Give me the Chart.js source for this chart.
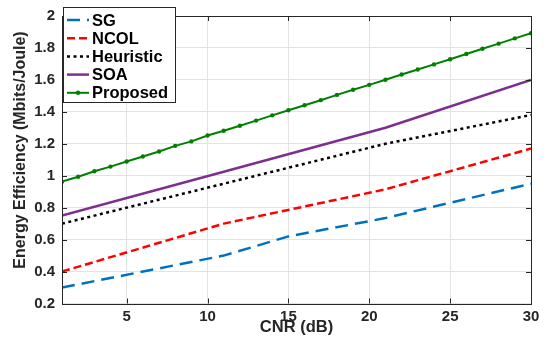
<!DOCTYPE html>
<html><head><meta charset="utf-8">
<script src="https://cdn.jsdelivr.net/npm/chart.js@4/dist/chart.umd.min.js"></script>
<style>html,body{margin:0;padding:0;background:#fff}canvas{display:block}</style>
</head><body><canvas id="c" width="547" height="345"></canvas>
<script>
const seriesNames = ['SG', 'NCOL', 'Heuristic', 'SOA', 'Proposed'];
const sgX = [1, 11, 15, 21, 30];
const sgY = [0.30, 0.50, 0.62, 0.735, 0.95];
const ncolX = [1, 11, 21, 30];
const ncolY = [0.40, 0.70, 0.915, 1.17];
const heurX = [1, 11, 21, 30];
const heurY = [0.70, 0.95, 1.20, 1.38];
const soaX = [1, 11, 21, 30];
const soaY = [0.75, 1.025, 1.30, 1.60];
const propX = [1, 2, 3, 4, 5, 6, 7, 8, 9, 10, 11, 12, 13, 14, 15, 16, 17, 18, 19, 20, 21, 22, 23, 24, 25, 26, 27, 28, 29, 30];
const propY = [0.963, 0.994, 1.028, 1.057, 1.089, 1.12, 1.152, 1.187, 1.215, 1.252, 1.282, 1.313, 1.345, 1.378, 1.41, 1.441, 1.473, 1.506, 1.538, 1.569, 1.601, 1.634, 1.665, 1.697, 1.729, 1.762, 1.795, 1.827, 1.86, 1.892];
const xTicks = [5, 10, 15, 20, 25, 30];
const yTicks = [0.2, 0.4, 0.6, 0.8, 1, 1.2, 1.4, 1.6, 1.8, 2];
const xTitle = 'CNR (dB)';
const yTitle = 'Energy Efficiency (Mbits/Joule)';

const FONT = "'Liberation Sans', Arial, Helvetica, sans-serif";
const pts = (xs, ys) => xs.map((x, i) => ({x: x, y: ys[i]}));

const datasets = [
  {label: seriesNames[0], data: pts(sgX, sgY), borderColor: '#0072BD', borderWidth: 2.5, borderDash: [13, 7], pointRadius: 0},
  {label: seriesNames[1], data: pts(ncolX, ncolY), borderColor: '#FF0000', borderWidth: 2.5, borderDash: [8, 4], pointRadius: 0},
  {label: seriesNames[2], data: pts(heurX, heurY), borderColor: '#000000', borderWidth: 2.5, borderDash: [3, 3.5], pointRadius: 0},
  {label: seriesNames[3], data: pts(soaX, soaY), borderColor: '#7E2F8E', borderWidth: 2.5, pointRadius: 0},
  {label: seriesNames[4], data: pts(propX, propY), borderColor: '#008000', backgroundColor: '#008000', borderWidth: 2, pointRadius: 2.2, pointBorderWidth: 0, pointStyle: 'circle'}
];

const framePlugin = {
  id: 'frame',
  afterDatasetsDraw(chart) {
    const {ctx, chartArea: a, scales} = chart;
    ctx.save();
    ctx.strokeStyle = '#262626';
    ctx.lineWidth = 1;
    ctx.strokeRect(Math.round(a.left) + 0.5, Math.round(a.top) + 0.5, Math.round(a.right - a.left), Math.round(a.bottom - a.top));
    const tl = 5;
    ctx.beginPath();
    xTicks.forEach(v => {
      const px = Math.round(scales.x.getPixelForValue(v)) + 0.5;
      ctx.moveTo(px, a.bottom); ctx.lineTo(px, a.bottom - tl);
      ctx.moveTo(px, a.top); ctx.lineTo(px, a.top + tl);
    });
    yTicks.forEach(v => {
      const py = Math.round(scales.y.getPixelForValue(v)) + 0.5;
      ctx.moveTo(a.left, py); ctx.lineTo(a.left + tl, py);
      ctx.moveTo(a.right, py); ctx.lineTo(a.right - tl, py);
    });
    ctx.stroke();

    // y axis title
    ctx.save();
    ctx.translate(21, 150);
    ctx.rotate(-Math.PI / 2);
    ctx.font = 'bold 16px ' + FONT;
    ctx.fillStyle = '#262626';
    ctx.textAlign = 'center';
    ctx.textBaseline = 'middle';
    ctx.fillText(yTitle, 0, 0);
    ctx.restore();

    // legend box
    const bx = 63.5, by = 7.5, bw = 112, bh = 95;
    ctx.fillStyle = '#fff';
    ctx.fillRect(bx, by, bw, bh);
    ctx.strokeStyle = '#262626';
    ctx.strokeRect(bx, by, bw, bh);
    ctx.font = 'bold 16.5px ' + FONT;
    ctx.textBaseline = 'middle';
    ctx.textAlign = 'left';
    chart.data.datasets.forEach((ds, i) => {
      const y = 20 + i * 18.2;
      ctx.save();
      ctx.strokeStyle = ds.borderColor;
      ctx.lineWidth = ds.borderWidth;
      ctx.setLineDash(ds.borderDash || []);
      ctx.beginPath();
      ctx.moveTo(67, y); ctx.lineTo(89, y);
      ctx.stroke();
      ctx.setLineDash([]);
      if (ds.pointRadius > 0) {
        ctx.fillStyle = ds.borderColor;
        ctx.beginPath(); ctx.arc(78, y, ds.pointRadius, 0, Math.PI * 2); ctx.fill();
      }
      ctx.restore();
      ctx.fillStyle = '#000';
      ctx.fillText(ds.label, 92, y + 1);
    });
    ctx.restore();
  }
};

new Chart(document.getElementById('c'), {
  type: 'line',
  data: {datasets: datasets},
  options: {
    responsive: false,
    animation: false,
    devicePixelRatio: 1,
    layout: {padding: {top: 8, right: 16, left: 0, bottom: 0}},
    plugins: {legend: {display: false}, tooltip: {enabled: false}},
    elements: {line: {tension: 0, fill: false}},
    scales: {
      x: {
        type: 'linear', min: 1, max: 30,
        afterBuildTicks: s => { s.ticks = xTicks.map(v => ({value: v})); },
        afterFit: s => { s.height = 41.5; },
        grid: {color: '#e3e3e3', drawTicks: false},
        border: {display: false},
        ticks: {padding: 4, color: '#262626', font: {family: FONT, size: 15, weight: 'bold'}, maxRotation: 0, callback: v => String(v)},
        title: {display: true, text: xTitle, color: '#262626', font: {family: FONT, size: 16.5, weight: 'bold'}, padding: {top: 0, bottom: 8}}
      },
      y: {
        type: 'linear', min: 0.2, max: 2,
        afterBuildTicks: s => { s.ticks = yTicks.map(v => ({value: v})); },
        afterFit: s => { s.width = 62; },
        grid: {color: '#e3e3e3', drawTicks: false},
        border: {display: false},
        ticks: {padding: 7, color: '#262626', font: {family: FONT, size: 15, weight: 'bold'}, callback: v => String(+Number(v).toFixed(1))},
        title: {display: false}
      }
    }
  },
  plugins: [framePlugin]
});
</script>
</body></html>
